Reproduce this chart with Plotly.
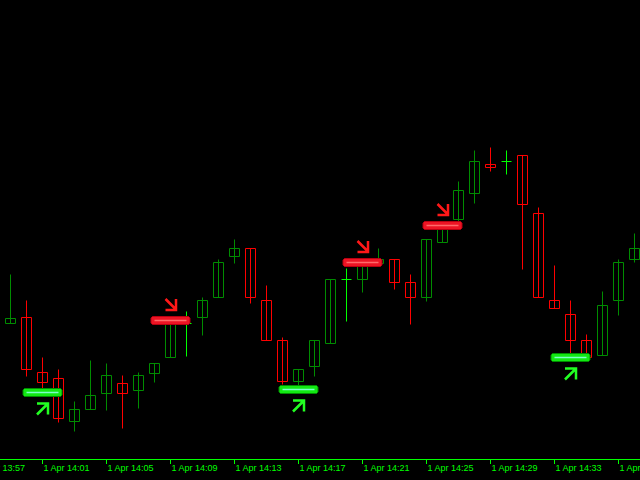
import plotly.graph_objects as go
import pandas as pd

DAY = "2024-04-01 "
times = ["13:59", "14:00", "14:01", "14:02", "14:03", "14:04", "14:05", "14:06", "14:07", "14:08",
         "14:09", "14:10", "14:11", "14:12", "14:13", "14:14", "14:15", "14:16", "14:17", "14:18",
         "14:19", "14:20", "14:21", "14:22", "14:23", "14:24", "14:25", "14:26", "14:27", "14:28",
         "14:29", "14:30", "14:31", "14:32", "14:33", "14:34", "14:35", "14:36", "14:37", "14:38"]
opens = [1.08157, 1.08163, 1.08108, 1.08102, 1.08059, 1.08071, 1.08087, 1.08097, 1.08090, 1.08107,
         1.08123, 1.08157, 1.08163, 1.08183, 1.08224, 1.08232, 1.08180, 1.08140, 1.08099, 1.08114,
         1.08137, 1.08201, 1.08201, 1.08217, 1.08221, 1.08198, 1.08183, 1.08238, 1.08261, 1.08287,
         1.08316, 1.08319, 1.08325, 1.08267, 1.08180, 1.08166, 1.08140, 1.08125, 1.08180, 1.08221]
highs = [1.08206, 1.08180, 1.08123, 1.08111, 1.08079, 1.08120, 1.08117, 1.08105, 1.08108, 1.08117,
         1.08162, 1.08169, 1.08183, 1.08221, 1.08241, 1.08232, 1.08195, 1.08143, 1.08111, 1.08140,
         1.08201, 1.08212, 1.08218, 1.08232, 1.08221, 1.08206, 1.08241, 1.08256, 1.08299, 1.08330,
         1.08333, 1.08330, 1.08325, 1.08273, 1.08215, 1.08180, 1.08146, 1.08189, 1.08221, 1.08247]
lows = [1.08157, 1.08104, 1.08091, 1.08058, 1.08049, 1.08071, 1.08070, 1.08052, 1.08072, 1.08098,
        1.08123, 1.08124, 1.08145, 1.08183, 1.08217, 1.08177, 1.08140, 1.08096, 1.08094, 1.08104,
        1.08137, 1.08159, 1.08188, 1.08217, 1.08191, 1.08156, 1.08179, 1.08238, 1.08258, 1.08277,
        1.08309, 1.08306, 1.08211, 1.08183, 1.08172, 1.08127, 1.08123, 1.08125, 1.08165, 1.08218]
closes = [1.08162, 1.08111, 1.08098, 1.08062, 1.08071, 1.08085, 1.08105, 1.08087, 1.08105, 1.08117,
          1.08159, 1.08157, 1.08180, 1.08218, 1.08232, 1.08183, 1.08140, 1.08099, 1.08111, 1.08140,
          1.08201, 1.08201, 1.08215, 1.08221, 1.08198, 1.08183, 1.08241, 1.08253, 1.08290, 1.08319,
          1.08313, 1.08319, 1.08276, 1.08183, 1.08172, 1.08140, 1.08123, 1.08175, 1.08218, 1.08232]

# signals
sig_times = ["14:01", "14:09", "14:17", "14:21", "14:26", "14:34"]
sig_prices = [1.08088, 1.08160, 1.08091, 1.08218, 1.08255, 1.08123]
sig_types = ["buy", "sell", "buy", "sell", "sell", "buy"]

tick_start = "13:57"
x_range = ["13:58:20.625", "14:38:20.625"]
y_range = [1.080215, 1.084805]

BODY_MS = 37500  # candle body width in milliseconds (style)

df = pd.DataFrame({"t": pd.to_datetime([DAY + t for t in times]),
                   "o": opens, "h": highs, "l": lows, "c": closes})
df["kind"] = ["bull" if c > o else ("bear" if c < o else "doji") for o, c in zip(df.o, df.c)]
colors = {"bull": "#008c00", "bear": "#ff0000", "doji": "#00ff00"}

fig = go.Figure()
# wicks
for kind, col in colors.items():
    sub = df[df.kind == kind]
    xs, ys = [], []
    for t, h, l in zip(sub.t, sub.h, sub.l):
        xs += [t, t, None]
        ys += [l, h, None]
    fig.add_trace(go.Scatter(x=xs, y=ys, mode="lines", line=dict(color=col, width=1),
                             hoverinfo="skip", showlegend=False))
# bodies
for kind in ["bull", "bear"]:
    sub = df[df.kind == kind]
    fig.add_trace(go.Bar(x=sub.t, y=(sub.c - sub.o).abs(), base=sub[["o", "c"]].min(axis=1),
                         width=BODY_MS, marker=dict(color="#000000",
                                                    line=dict(color=colors[kind], width=1)),
                         hoverinfo="skip", showlegend=False))
# doji horizontal
sub = df[df.kind == "doji"]
xs, ys = [], []
half = pd.Timedelta(milliseconds=BODY_MS / 2)
for t, o in zip(sub.t, sub.o):
    xs += [t - half, t + half, None]
    ys += [o, o, None]
fig.add_trace(go.Scatter(x=xs, y=ys, mode="lines", line=dict(color=colors["doji"], width=1),
                         hoverinfo="skip", showlegend=False))

bar_path = "M-18,-4 L18,-4 L19.5,-2.5 L19.5,2.5 L18,4 L-18,4 L-19.5,2.5 L-19.5,-2.5 Z"
sell_arrow = "M-5,21.5 L5.5,11 M5.5,21.5 L5.5,10.5 L-5,10.5"
buy_arrow = "M-5.5,-22 L5.5,-11 M-5.5,-11 L5.5,-11 L5.5,-22"
shapes = []
for t, p, k in zip(sig_times, sig_prices, sig_types):
    xt = DAY + t
    if k == "sell":
        fill, edge, inner, arrow_col, arrow = "#ec1424", "#b80010", "#ff6a6a", "#ff1818", sell_arrow
    else:
        fill, edge, inner, arrow_col, arrow = "#12e812", "#008c00", "#7affc8", "#22ff22", buy_arrow
    common = dict(xref="x", yref="y", xsizemode="pixel", ysizemode="pixel", xanchor=xt, yanchor=p)
    shapes.append(dict(type="path", path=bar_path, fillcolor=fill, line=dict(color=edge, width=1), **common))
    shapes.append(dict(type="line", x0=-16, x1=16, y0=0, y1=0, line=dict(color=inner, width=1.5), **common))
    shapes.append(dict(type="path", path=arrow, line=dict(color=arrow_col, width=2.5), **common))

t0 = pd.Timestamp(DAY + x_range[0])
t1 = pd.Timestamp(DAY + x_range[1])
ts = pd.Timestamp(DAY + tick_start)
first_lab_x = (ts - t0) / (t1 - t0)

FONT = dict(family="Liberation Sans", size=9, color="#00ff00")
fig.update_layout(
    width=640, height=480,
    margin=dict(l=0, r=0, t=0, b=21),
    paper_bgcolor="#000000", plot_bgcolor="#000000",
    font=FONT, barmode="overlay",
    shapes=shapes,
    annotations=[dict(x=first_lab_x, xref="paper", y=0, yref="paper", yshift=-2, xshift=-2,
                      text=ts.strftime("%-d %b %H:%M"), showarrow=False,
                      xanchor="left", yanchor="top", font=FONT)],
    xaxis=dict(type="date", range=[DAY + x_range[0], DAY + x_range[1]],
               showgrid=False, zeroline=False,
               showline=True, linecolor="#00ff00", linewidth=1,
               ticks="outside", ticklen=4, tickcolor="#00ff00", tickwidth=1,
               tick0=DAY + tick_start, dtick=240000, tickformat="%-d %b %H:%M",
               ticklabelposition="outside right", ticklabeloverflow="allow",
               automargin=False, fixedrange=True,
               tickfont=FONT),
    yaxis=dict(range=y_range, showgrid=False, zeroline=False, showticklabels=False,
               showline=False, automargin=False, fixedrange=True),
)

fig.write_html("out.html", config={"displayModeBar": False},
               post_script="document.body.style.margin='0';document.body.style.overflow='hidden';")
